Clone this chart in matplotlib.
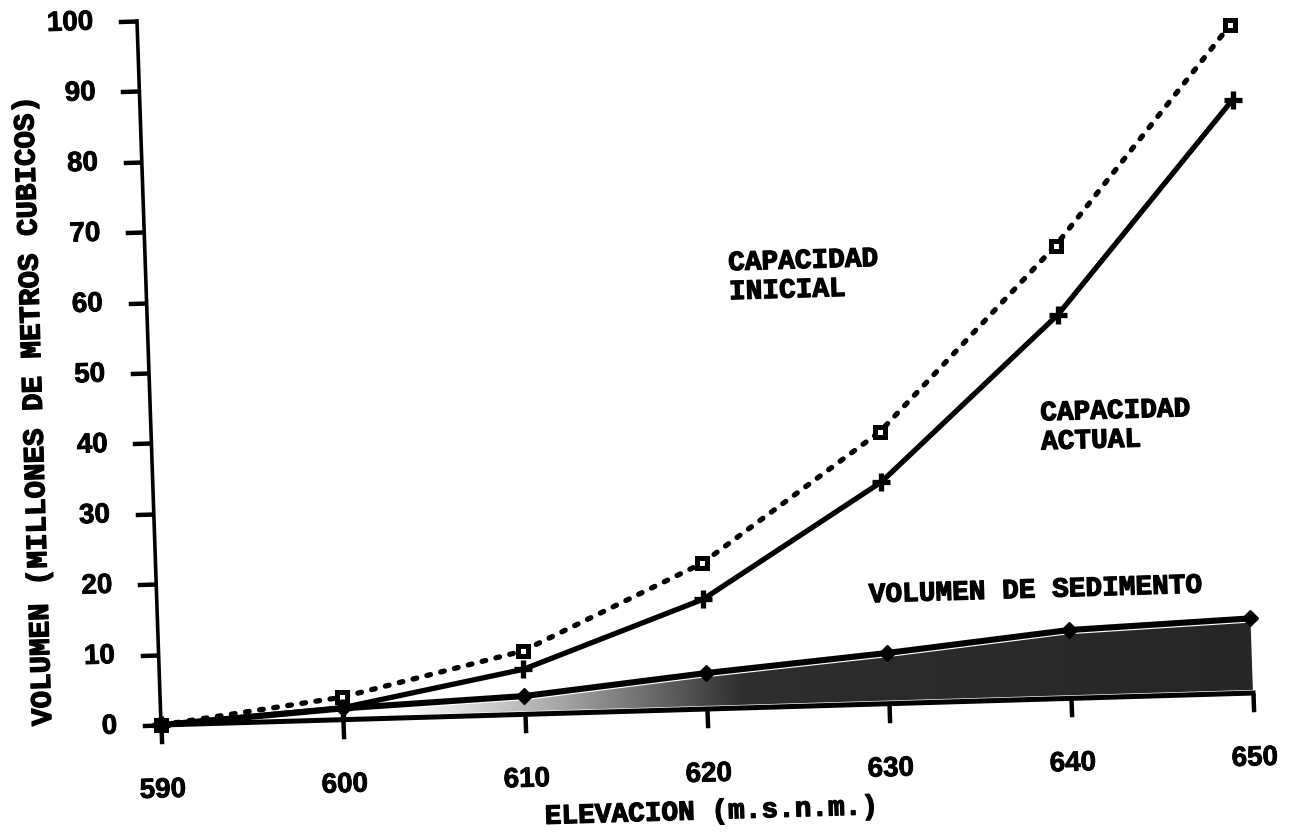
import numpy as np
import matplotlib
matplotlib.use("Agg")
import matplotlib.pyplot as plt
import matplotlib.patheffects as pe
from matplotlib.transforms import Affine2D
from mpl_toolkits.axisartist import floating_axes
from mpl_toolkits.axisartist.grid_finder import FixedLocator, DictFormatter

# ---------------- data ----------------
elevacion = [590, 600, 610, 620, 630, 640, 650]
capacidad_inicial = [0.0, 3.2, 9.0, 20.7, 38.6, 64.3, 94.9]
capacidad_actual = [0.0, 1.7, 6.4, 15.6, 31.5, 54.5, 84.3]
volumen_sedimento = [0.0, 1.6, 2.6, 5.1, 7.2, 9.7, 10.6]

x_ticks = [590, 600, 610, 620, 630, 640, 650]
x_tick_labels = ["590", "600", "610", "620", "630", "640", "650"]
y_ticks = [0, 10, 20, 30, 40, 50, 60, 70, 80, 90, 100]
y_tick_labels = ["0", "10", "20", "30", "40", "50", "60", "70", "80", "90", "100"]

x_label = "ELEVACION (m.s.n.m.)"
y_label = "VOLUMEN (MILLONES DE METROS CUBICOS)"
label_inicial = "CAPACIDAD\nINICIAL"
label_actual = "CAPACIDAD\nACTUAL"
label_sedimento = "VOLUMEN DE SEDIMENTO"

# ---------------- figure ----------------
W, H, DPI = 1290, 834, 100
fig = plt.figure(figsize=(W / DPI, H / DPI), dpi=DPI)
fig.patch.set_facecolor("white")

XMIN, XMAX, YMIN, YMAX = 590, 650, 0, 100
# the scanned page is slightly skewed: data -> (pixel-like) coordinates
sx, sy = 18.2, 7.04      # px per unit along each axis
kx, ky = 0.533, -0.24    # skew components
M = np.array([[sx, ky, 0.0], [kx, sy, 0.0], [0.0, 0.0, 1.0]])
tr = Affine2D().translate(-XMIN, 0) + Affine2D(M)

grid_helper = floating_axes.GridHelperCurveLinear(
    tr, extremes=(XMIN, XMAX, YMIN, YMAX),
    grid_locator1=FixedLocator(x_ticks),
    grid_locator2=FixedLocator(y_ticks),
    tick_formatter1=DictFormatter(dict(zip(x_ticks, x_tick_labels))),
    tick_formatter2=DictFormatter(dict(zip(y_ticks, y_tick_labels))),
)

# axes box (transformed bbox expanded 2 % as floating axes does)
corners = tr.transform([[XMIN, YMIN], [XMAX, YMIN], [XMIN, YMAX], [XMAX, YMAX]])
bw = (corners[:, 0].max() - corners[:, 0].min()) * 1.02
bh = (corners[:, 1].max() - corners[:, 1].min()) * 1.02
origin_px = (161.0, H - 725.0)
cx = origin_px[0] + (corners[:, 0].max() + corners[:, 0].min()) / 2
cy = origin_px[1] + (corners[:, 1].max() + corners[:, 1].min()) / 2
rect = [(cx - bw / 2) / W, (cy - bh / 2) / H, bw / W, bh / H]

ax = fig.add_axes(rect, axes_class=floating_axes.FloatingAxes, grid_helper=grid_helper)
ax.patch.set_visible(False)

for side in ("top", "right"):
    ax.axis[side].set_visible(False)

bold_fx = [pe.withStroke(linewidth=0.9, foreground="black")]

tick_font = dict(family="Liberation Sans", weight="bold", size=20)
for side, lw, pad in (("left", 2.6, 18), ("bottom", 3.6, 25)):
    a = ax.axis[side]
    a.line.set_linewidth(lw)
    a.line.set_color("black")
    a.major_ticks.set_tick_out(True)
    a.major_ticks.set_ticksize(13.5)
    a.major_ticks.set_color("black")
    a.major_ticks.set_markeredgecolor("black")
    a.major_ticks.set_markeredgewidth(3.2)
    a.minor_ticks.set_visible(False)
    tl = a.major_ticklabels
    tl.set_fontfamily(tick_font["family"])
    tl.set_fontweight(tick_font["weight"])
    tl.set_fontsize(tick_font["size"])
    tl.set_color("black")
    tl.set_pad(pad)
    tl.set_path_effects([pe.withStroke(linewidth=0.6, foreground="black")])
    a.set_zorder(2.9)

aux = ax.get_aux_axes(tr)

# shaded sediment band (gradient clipped to the band under the sediment curve)
sed = np.array(volumen_sedimento)
band = aux.fill_between(elevacion, 0.45, np.maximum(sed - 0.6, 0.45),
                        facecolor="none", edgecolor="none")
cols = np.linspace(XMIN, XMAX, 400)
dark = np.interp(cols, [590, 603, 612, 622, 650], [0.0, 0.0, 0.35, 0.82, 0.85])
grad = np.ones((2, cols.size, 3)) * (1 - dark)[None, :, None]
im = aux.imshow(grad, extent=[XMIN, XMAX, 0, 12], origin="lower",
                aspect="auto", interpolation="bilinear", zorder=1)
im.set_clip_path(band.get_paths()[0], band.get_transform())

# curves
aux.plot(elevacion, capacidad_inicial, color="black", lw=3.8,
         dashes=(0.7, 2.0), dash_capstyle="round",
         marker="s", ms=6.5, mfc="white", mec="black", mew=3.6, zorder=4)
aux.plot(elevacion, capacidad_actual, color="black", lw=3.8,
         solid_capstyle="round", marker="+", ms=13, mew=3.8, zorder=4)
aux.plot(elevacion, volumen_sedimento, color="black", lw=4.4,
         marker="D", ms=8.5, zorder=5)

# annotations
ann = dict(fontsize=20, fontweight="bold", family="Liberation Mono",
           rotation=1.7, rotation_mode="anchor", ha="left", va="top",
           linespacing=1.15, color="black", path_effects=bold_fx)
aux.text(622.0, 65.0, label_inicial, **ann)
aux.text(638.85, 42.4, label_actual, **ann)
aux.text(629.1, 17.3, label_sedimento, **ann)

# axis titles
fig.text(711 / W, 1 - 812 / H, x_label, ha="center", va="center",
         rotation=1.7, fontsize=20, fontweight="bold", family="Liberation Mono",
         path_effects=bold_fx)
fig.text(34 / W, 1 - 411 / H, y_label, ha="center", va="center",
         rotation=91.7, fontsize=21, fontweight="bold", family="Liberation Mono",
         path_effects=bold_fx)

fig.savefig("out.png", dpi=DPI, facecolor="white")
